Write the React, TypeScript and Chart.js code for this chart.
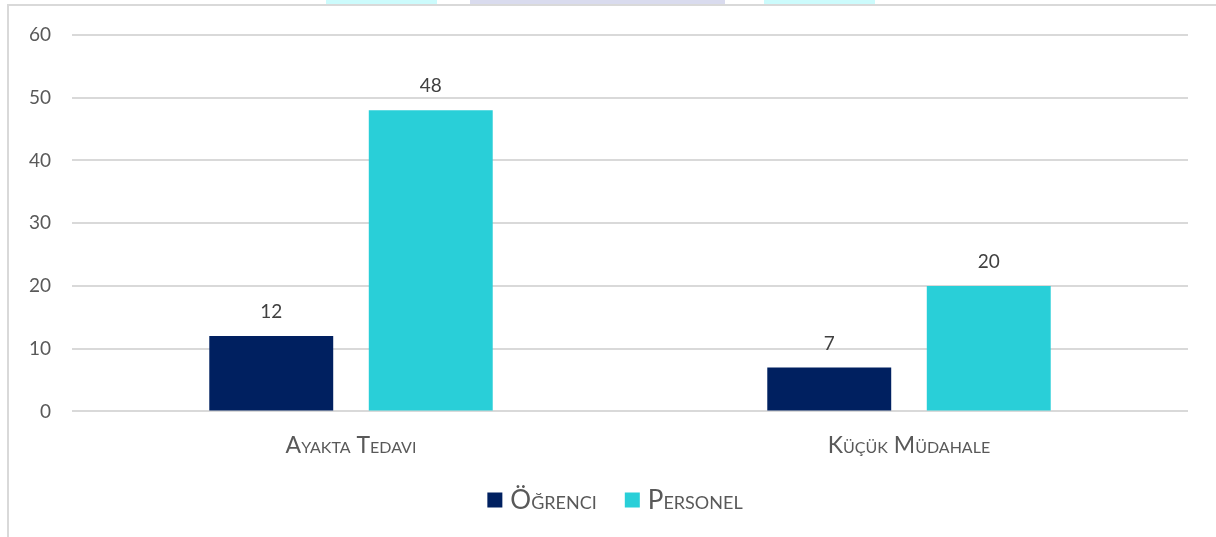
import React, { useEffect, useRef } from "react";
import { Chart, registerables } from "chart.js";

Chart.register(...registerables);

const categories = ["Ayakta Tedavi", "Küçük Müdahale"];
const seriesNames = ["Öğrenci", "Personel"];
const ogrenciValues = [12, 7];
const personelValues = [48, 20];
const seriesColors = ["#002060", "#29CFD8"];

const FONT = "Lato, 'Open Sans', sans-serif";

const dataLabelPlugin = {
  id: "dataLabels",
  afterDatasetsDraw(chart: any) {
    const ctx = chart.ctx;
    ctx.save();
    ctx.fillStyle = "#404040";
    ctx.font = `19px ${FONT}`;
    ctx.textAlign = "center";
    ctx.textBaseline = "middle";
    chart.data.datasets.forEach((ds: any, i: number) => {
      const meta = chart.getDatasetMeta(i);
      meta.data.forEach((bar: any, j: number) => {
        ctx.fillText(String(ds.data[j]), bar.x, bar.y - 24);
      });
    });
    ctx.restore();
  },
};

const legendPlugin = {
  id: "customLegend",
  afterDraw(chart: any) {
    const ctx = chart.ctx;
    ctx.save();
    ctx.font = `small-caps 26px ${FONT}`;
    ctx.textBaseline = "middle";
    ctx.textAlign = "left";
    const box = 15;
    const gapText = 8;
    const gapItem = 28;
    const widths = chart.data.datasets.map((d: any) => ctx.measureText(d.label).width);
    let total = 0;
    widths.forEach((w: number, i: number) => {
      total += box + gapText + w + (i < widths.length - 1 ? gapItem : 0);
    });
    let x = 615 - total / 2;
    const y = 500;
    chart.data.datasets.forEach((d: any, i: number) => {
      ctx.fillStyle = d.backgroundColor;
      ctx.fillRect(x, y - box / 2, box, box);
      x += box + gapText;
      ctx.fillStyle = "#595959";
      ctx.fillText(d.label, x, y + 1);
      x += widths[i] + gapItem;
    });
    ctx.restore();
  },
};

export default function App() {
  const ref = useRef<HTMLCanvasElement | null>(null);
  useEffect(() => {
    if (!ref.current) return;
    const chart = new Chart(ref.current, {
      type: "bar",
      data: {
        labels: categories,
        datasets: [
          {
            label: seriesNames[0],
            data: ogrenciValues,
            backgroundColor: seriesColors[0],
            categoryPercentage: 0.5717,
            barPercentage: 0.777,
          },
          {
            label: seriesNames[1],
            data: personelValues,
            backgroundColor: seriesColors[1],
            categoryPercentage: 0.5717,
            barPercentage: 0.777,
          },
        ],
      },
      options: {
        animation: false,
        responsive: true,
        maintainAspectRatio: false,
        layout: { padding: { left: 0, right: 28, top: 35, bottom: 66 } },
        scales: {
          x: {
            grid: { display: false },
            border: { display: false },
            ticks: {
              color: "#595959",
              font: { family: FONT, size: 23, weight: "small-caps" as any },
              padding: 12,
            },
          },
          y: {
            min: 0,
            max: 60,
            afterFit: (scale: any) => {
              scale.width = 72;
            },
            grid: { color: "#d9d9d9", lineWidth: 2, drawTicks: false },
            border: { display: false },
            ticks: {
              stepSize: 10,
              color: "#595959",
              font: { family: FONT, size: 19 },
              padding: 21,
            },
          },
        },
        plugins: {
          legend: { display: false },
          tooltip: { enabled: false },
        },
      },
      plugins: [dataLabelPlugin, legendPlugin],
    });
    return () => chart.destroy();
  }, []);

  return (
    <div style={{ position: "absolute", left: 0, top: 0, width: 1216, height: 537, overflow: "hidden", background: "#fff" }}>
      <div style={{ position: "absolute", left: 326, top: 0, width: 111, height: 5, background: "#CCFBFC" }} />
      <div style={{ position: "absolute", left: 470, top: 0, width: 255, height: 5, background: "#D9DBEE" }} />
      <div style={{ position: "absolute", left: 764, top: 0, width: 111, height: 5, background: "#CCFBFC" }} />
      <div style={{ position: "absolute", left: 7, top: 4, width: 1300, height: 600, borderTop: "2px solid #d9d9d9", borderLeft: "2px solid #d9d9d9" }} />
      <div style={{ position: "absolute", left: 0, top: 0, width: 1216, height: 537 }}>
        <canvas ref={ref} />
      </div>
    </div>
  );
}
